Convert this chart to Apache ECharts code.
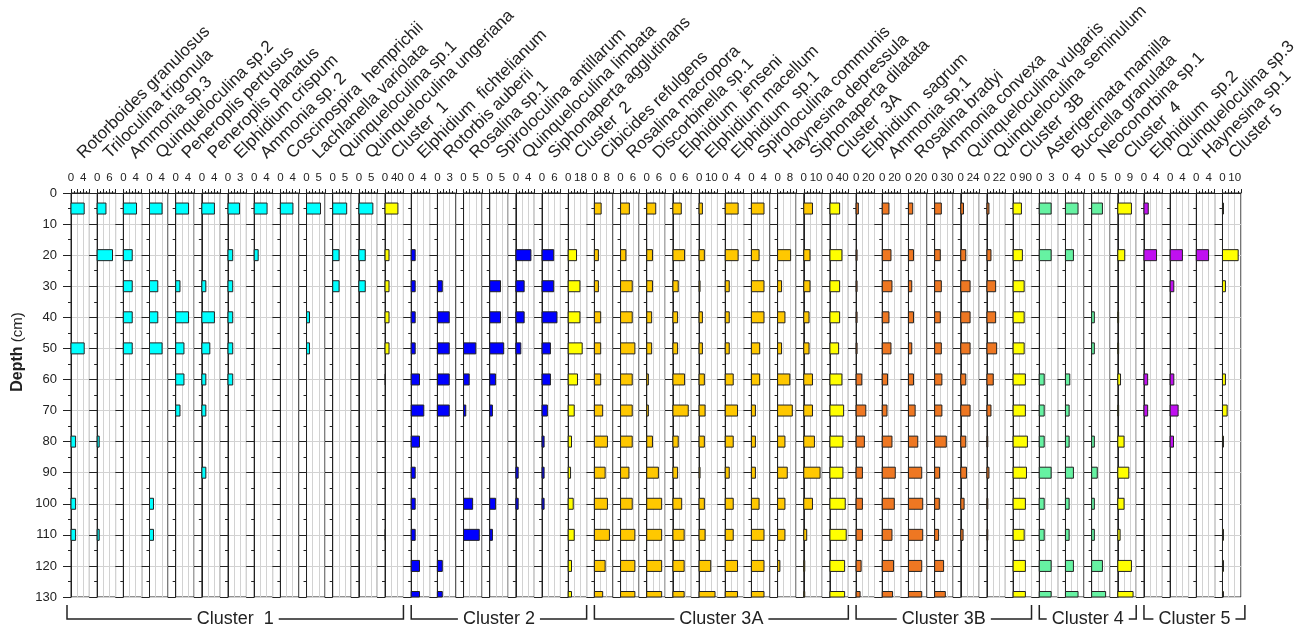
<!DOCTYPE html>
<html>
<head>
<meta charset="utf-8">
<title>Foraminifera depth profile</title>
<script src="https://cdn.jsdelivr.net/npm/echarts@6.0.0/dist/echarts.min.js"></script>
<style>
  html, body { margin: 0; padding: 0; background: #fff; }
  #main { width: 1303px; height: 631px; }
</style>
</head>
<body>
<div id="main"></div>
<script>
// sample depths (cm); every taxon array below has one value per depth
var depths = [5, 20, 30, 40, 50, 60, 70, 80, 90, 100, 110, 120, 130];
var depthRange = [0, 130];

// Cluster 1
var rotorboidesGranulosus   = [4.3, 0, 0, 0, 4.3, 0, 0, 1.5, 0, 1.5, 1.5, 0, 0];
var triloculinaTrigonula    = [4.3, 7.5, 0, 0, 0, 0, 0, 1.0, 0, 0, 1.0, 0, 0];
var ammoniaSp3              = [4.3, 2.9, 2.9, 2.9, 2.9, 0, 0, 0, 0, 0, 0, 0, 0];
var quinqueloculinaSp2      = [4.1, 0, 2.7, 2.7, 4.1, 0, 0, 0, 0, 1.3, 1.3, 0, 0];
var peneroplisPertusus      = [4.2, 0, 1.4, 4.2, 2.7, 2.7, 1.4, 0, 0, 0, 0, 0, 0];
var peneroplisPlanatus      = [4.1, 0, 1.3, 4.1, 2.6, 1.3, 1.3, 0, 1.3, 0, 0, 0, 0];
var elphidiumCrispum        = [2.8, 1.15, 1.15, 1.15, 1.15, 1.15, 0, 0, 0, 0, 0, 0, 0];
var ammoniaSp2              = [4.2, 1.3, 0, 0, 0, 0, 0, 0, 0, 0, 0, 0, 0];
var coscinospiraHemprichii  = [4.1, 0, 0, 0, 0, 0, 0, 0, 0, 0, 0, 0, 0];
var lachlanellaVariolata    = [5.7, 0, 0, 1.2, 1.2, 0, 0, 0, 0, 0, 0, 0, 0];
var quinqueloculinaSp1      = [5.7, 2.6, 2.6, 0, 0, 0, 0, 0, 0, 0, 0, 0, 0];
var quinqueloculinaUngeriana = [5.7, 2.6, 2.6, 0, 0, 0, 0, 0, 0, 0, 0, 0, 0];
var cluster1                = [42, 13, 13, 13, 13, 1.5, 0, 0, 0, 0, 1.5, 0, 0];
// Cluster 2
var elphidiumFichtelianum   = [0, 1.3, 1.3, 1.3, 1.3, 2.7, 4.1, 2.7, 1.3, 1.3, 1.3, 2.7, 2.7];
var rotorbisAuberii         = [0, 0, 1.2, 2.9, 2.9, 2.9, 2.9, 0, 0, 0, 0, 1.2, 1.2];
var rosalinaSp1             = [0, 0, 0, 0, 5.0, 2.3, 0.9, 0, 0, 3.7, 6.4, 0, 0];
var spiroloculinaAntillarum = [0, 0, 4.4, 4.4, 5.7, 2.4, 1.1, 0, 0, 2.4, 1.1, 0, 0];
var quinqueloculinaLimbata  = [0, 4.9, 2.7, 2.7, 1.6, 0, 0, 0, 0.75, 0.75, 0, 0, 0];
var siphonapertaAgglutinans = [0, 5.7, 5.7, 7.3, 4.1, 4.1, 2.6, 1.0, 1.0, 1.0, 0, 0, 0];
var cluster2                = [0, 12.2, 17.2, 17.2, 20.5, 13.6, 8.8, 4.8, 3.4, 7.3, 8.8, 4.8, 4.8];
// Cluster 3A
var cibicidesRefulgens      = [4.4, 2.6, 2.6, 4.1, 4.1, 4.1, 5.4, 8.5, 7.0, 8.5, 9.8, 7.0, 5.4];
var rosalinaMacropora       = [4.3, 2.6, 5.7, 5.7, 7.0, 5.7, 5.7, 5.7, 4.1, 5.7, 7.0, 7.0, 7.0];
var discorbinellaSp1        = [4.4, 2.8, 2.8, 2.4, 2.4, 0.8, 0.8, 2.8, 5.7, 7.3, 7.3, 7.3, 7.3];
var elphidiumJenseni        = [4.1, 5.7, 2.6, 2.3, 2.3, 5.7, 7.5, 2.6, 2.3, 4.3, 5.5, 5.5, 5.5];
var elphidiumMacellum       = [2.7, 4.3, 0.8, 2.7, 2.7, 4.3, 4.9, 4.3, 0.8, 4.3, 4.9, 9.5, 13.0];
var elphidiumSp1            = [4.2, 4.2, 1.3, 1.3, 1.3, 2.6, 4.0, 2.6, 1.3, 2.6, 2.6, 4.0, 4.0];
var spiroloculinaCommunis   = [4.1, 2.5, 4.1, 4.1, 2.7, 2.7, 1.3, 1.3, 1.3, 2.5, 4.1, 4.1, 4.1];
var haynesinaDepressula     = [0, 8.5, 2.6, 4.8, 2.6, 8.0, 9.6, 4.8, 6.3, 4.8, 4.8, 1.5, 0];
var siphonapertaDilatata    = [7.1, 5.1, 5.1, 4.3, 4.3, 7.1, 7.1, 8.7, 13.3, 7.1, 2.4, 0.8, 0.8];
var cluster3A               = [31.6, 39.1, 31.6, 31.6, 28.4, 39.1, 44.7, 42.4, 42.4, 49.9, 53.1, 47.9, 47.9];
// Cluster 3B
var elphidiumSagrum         = [3.7, 1.6, 1.6, 1.6, 1.6, 9.3, 15.8, 13.5, 10.3, 10.3, 10.3, 8.2, 6.5];
var ammoniaSp1              = [10.9, 14.2, 15.8, 10.9, 14.2, 8.6, 7.7, 15.8, 21.2, 19.6, 15.8, 18.4, 16.8];
var rosalinaBradyi          = [7.0, 8.2, 5.4, 8.2, 5.4, 8.2, 10.9, 15.2, 21.7, 23.3, 23.3, 21.7, 21.7];
var ammoniaConvexa          = [16.4, 13.9, 16.4, 13.9, 16.4, 17.8, 17.8, 28.6, 12.2, 11.5, 9.8, 22.0, 26.2];
var quinqueloculinaVulgaris = [5.3, 9.8, 18.2, 18.2, 18.2, 9.8, 18.2, 9.8, 11.1, 6.5, 4.5, 0, 0];
var quinqueloculinaSeminulum = [3.6, 7.2, 15.6, 15.6, 17.4, 11.3, 7.2, 1.5, 3.6, 1.5, 1.5, 0, 0];
var cluster3B               = [61, 68, 81, 81, 81, 90, 90, 105, 98, 90, 81, 90, 90];
// Cluster 4
var asterigerinataMamilla   = [2.9, 2.9, 0, 0, 0, 1.2, 1.2, 1.2, 2.9, 1.2, 1.2, 2.9, 2.9];
var buccellaGranulata       = [4.1, 2.6, 0, 0, 0, 1.4, 1.2, 1.2, 2.6, 1.2, 1.2, 2.6, 4.1];
var neoconorbinaSp1         = [4.4, 0, 0, 1.1, 1.1, 0, 0, 1.1, 2.3, 1.1, 1.1, 4.4, 5.7];
var cluster4                = [10.0, 5.1, 0, 0.6, 0.6, 2.0, 0.6, 4.6, 8.1, 4.6, 1.7, 10.0, 11.2];
// Cluster 5
var elphidiumSp2            = [1.4, 4.1, 0, 0, 0, 1.2, 1.2, 0, 0, 0, 0, 0, 0];
var quinqueloculinaSp3      = [0, 4.0, 1.2, 0, 0, 1.2, 2.6, 1.1, 0, 0, 0, 0, 0];
var haynesinaSp1            = [0, 4.0, 0, 0, 0, 0, 0, 0, 0, 0, 0, 0, 0];
var cluster5                = [0.8, 12.8, 2.4, 0, 0, 2.4, 3.8, 0.8, 0, 0, 0.8, 0.8, 0.8];

var taxonNames = [
    'Rotorboides granulosus', 'Triloculina trigonula', 'Ammonia sp.3', 'Quinqueloculina sp.2',
    'Peneroplis pertusus', 'Peneroplis planatus', 'Elphidium crispum', 'Ammonia sp. 2',
    'Coscinospira  hemprichii', 'Lachlanella variolata', 'Quinqueloculina sp.1',
    'Quinqueloculina ungeriana', 'Cluster  1',
    'Elphidium  fichtelianum', 'Rotorbis auberii', 'Rosalina sp.1', 'Spiroloculina antillarum',
    'Quinqueloculina limbata', 'Siphonaperta agglutinans', 'Cluster  2',
    'Cibicides refulgens', 'Rosalina macropora', 'Discorbinella sp.1', 'Elphidium  jenseni',
    'Elphidium macellum', 'Elphidium  sp.1', 'Spiroloculina communis', 'Haynesina depressula',
    'Siphonaperta dilatata', 'Cluster  3A',
    'Elphidium  sagrum', 'Ammonia sp.1', 'Rosalina bradyi', 'Ammonia convexa',
    'Quinqueloculina vulgaris', 'Quinqueloculina seminulum', 'Cluster  3B',
    'Asterigerinata mamilla', 'Buccella granulata', 'Neoconorbina sp.1', 'Cluster  4',
    'Elphidium  sp.2', 'Quinqueloculina sp.3', 'Haynesina sp.1', 'Cluster 5'
];
var taxonValues = [
    rotorboidesGranulosus, triloculinaTrigonula, ammoniaSp3, quinqueloculinaSp2,
    peneroplisPertusus, peneroplisPlanatus, elphidiumCrispum, ammoniaSp2,
    coscinospiraHemprichii, lachlanellaVariolata, quinqueloculinaSp1,
    quinqueloculinaUngeriana, cluster1,
    elphidiumFichtelianum, rotorbisAuberii, rosalinaSp1, spiroloculinaAntillarum,
    quinqueloculinaLimbata, siphonapertaAgglutinans, cluster2,
    cibicidesRefulgens, rosalinaMacropora, discorbinellaSp1, elphidiumJenseni,
    elphidiumMacellum, elphidiumSp1, spiroloculinaCommunis, haynesinaDepressula,
    siphonapertaDilatata, cluster3A,
    elphidiumSagrum, ammoniaSp1, rosalinaBradyi, ammoniaConvexa,
    quinqueloculinaVulgaris, quinqueloculinaSeminulum, cluster3B,
    asterigerinataMamilla, buccellaGranulata, neoconorbinaSp1, cluster4,
    elphidiumSp2, quinqueloculinaSp3, haynesinaSp1, cluster5
];
// labelled value on each panel's top axis
var axisMarks = [4, 6, 4, 4, 4, 4, 3, 4, 4, 5, 5, 5, 40,
                 4, 3, 5, 5, 4, 6, 18,
                 8, 6, 6, 6, 10, 4, 4, 8, 10, 40,
                 20, 20, 20, 30, 24, 22, 90,
                 3, 4, 5, 9,
                 4, 4, 4, 10];
var taxonGroups = ['c1', 'c1', 'c1', 'c1', 'c1', 'c1', 'c1', 'c1', 'c1', 'c1', 'c1', 'c1', 'sum',
                   'c2', 'c2', 'c2', 'c2', 'c2', 'c2', 'sum',
                   'c3a', 'c3a', 'c3a', 'c3a', 'c3a', 'c3a', 'c3a', 'c3a', 'c3a', 'sum',
                   'c3b', 'c3b', 'c3b', 'c3b', 'c3b', 'c3b', 'sum',
                   'c4', 'c4', 'c4', 'sum',
                   'c5', 'c5', 'c5', 'sum'];
var clusterNames = ['Cluster  1', 'Cluster 2', 'Cluster 3A', 'Cluster 3B', 'Cluster 4', 'Cluster 5'];
var clusterFirst = [0, 13, 20, 30, 37, 41];
var clusterLast  = [12, 19, 29, 36, 40, 44];

var groupColors = {
    c1: '#00FFFF', c2: '#0000FF', c3a: '#FFC800', c3b: '#EE7722',
    c4: '#66F2A2', c5: '#C010F0', sum: '#FFFF00'
};

// layout
var plotLeft = 71, plotTop = 193, plotHeight = 404;
var panelStep = 26.17, panelWidth = 18.4, barHeight = 11;
var ink = '#222', gridGrey = '#d2d2d2';
var font = 'Liberation Sans';

function panelX(i) { return plotLeft + i * panelStep; }

function makeBarRenderer(color) {
    return function (params, api) {
        var len = api.value(0), depth = api.value(1);
        var p0 = api.coord([0, depth]);
        var p1 = api.coord([len, depth]);
        var cs = params.coordSys;
        var rect = echarts.graphic.clipRectByRect({
            x: p0[0], y: p0[1] - barHeight / 2, width: p1[0] - p0[0], height: barHeight
        }, {
            x: cs.x, y: cs.y, width: cs.width, height: cs.height
        });
        return rect && {
            type: 'rect',
            shape: rect,
            style: { fill: color, stroke: ink, lineWidth: 1 }
        };
    };
}

var grids = [], xAxes = [], yAxes = [], series = [];
taxonNames.forEach(function (name, i) {
    var mark = axisMarks[i];
    grids.push({
        left: panelX(i), top: plotTop, width: panelWidth, height: plotHeight,
        show: true, borderColor: ink, borderWidth: 1, backgroundColor: 'transparent',
        containLabel: false, outerBoundsMode: 'none'
    });
    xAxes.push({
        gridIndex: i, type: 'value', position: 'top',
        min: 0, max: mark * 1.5, interval: mark / 2,
        name: name, nameLocation: 'middle', nameGap: 37, nameRotate: 45,
        nameMoveOverlap: false,
        nameTextStyle: { fontFamily: font, fontSize: 17, color: ink },
        axisLine: { show: true, onZero: false, lineStyle: { color: ink, width: 1 } },
        axisTick: { show: true, length: 4, lineStyle: { color: ink } },
        minorTick: { show: true, splitNumber: 2, length: 2, lineStyle: { color: ink } },
        axisLabel: {
            show: true, margin: 9, fontSize: 11.5, color: ink, fontFamily: font,
            showMinLabel: true, showMaxLabel: true,
            formatter: function (v) {
                if (v === 0) return '0';
                return Math.abs(v - mark) < 1e-9 ? String(mark) : '';
            }
        },
        splitLine: { show: true, lineStyle: { color: gridGrey, width: 1 } },
        minorSplitLine: { show: false }
    });
    yAxes.push({
        gridIndex: i, type: 'value', inverse: true,
        min: depthRange[0], max: depthRange[1], interval: 10,
        axisLine: { show: true, onZero: false, lineStyle: { color: ink, width: 1 } },
        axisTick: { show: true, length: 8, lineStyle: { color: ink } },
        minorTick: { show: true, splitNumber: 2, length: 3, lineStyle: { color: ink } },
        axisLabel: { show: i === 0, margin: 14, fontSize: 13, color: ink, fontFamily: font },
        splitLine: { show: true, lineStyle: { color: gridGrey, width: 1 } }
    });
    var vals = taxonValues[i];
    series.push({
        type: 'custom',
        xAxisIndex: i, yAxisIndex: i,
        renderItem: makeBarRenderer(groupColors[taxonGroups[i]]),
        encode: { x: 0, y: 1 },
        silent: true,
        data: depths.map(function (d, j) { return [vals[j], d]; })
                    .filter(function (p) { return p[0] > 0; })
    });
});

// cluster brackets under the panels
var graphics = [];
var bracketTop = 605, bracketY = 619;
clusterNames.forEach(function (label, c) {
    var left = panelX(clusterFirst[c]) - (c === 0 ? 4 : 0);
    var right = panelX(clusterLast[c]) + panelWidth + (c === clusterNames.length - 1 ? 4 : 0);
    graphics.push({
        type: 'polyline',
        shape: { points: [[left, bracketTop], [left, bracketY], [right, bracketY], [right, bracketTop]] },
        style: { stroke: ink, lineWidth: 1.5, fill: null },
        silent: true
    });
    graphics.push({
        type: 'text',
        x: (left + right) / 2, y: bracketY,
        style: {
            text: label, fontFamily: font, fontSize: 18, fill: ink,
            align: 'center', verticalAlign: 'middle',
            backgroundColor: '#fff', padding: [0, 5]
        },
        silent: true
    });
});
graphics.push({
    type: 'text',
    x: 18, y: 352, rotation: Math.PI / 2,
    style: {
        text: '{b|Depth} (cm)', fontFamily: font, fontSize: 15, fill: ink,
        align: 'center', verticalAlign: 'middle',
        rich: { b: { fontFamily: font, fontSize: 16, fontWeight: 'bold', fill: ink } }
    },
    silent: true
});

var myChart = echarts.init(document.getElementById('main'));
var option = {
    animation: false,
    backgroundColor: '#fff',
    textStyle: { fontFamily: font },
    grid: grids,
    xAxis: xAxes,
    yAxis: yAxes,
    series: series,
    graphic: graphics
};
myChart.setOption(option, true);
window.onresize = myChart.resize;
</script>
</body>
</html>
